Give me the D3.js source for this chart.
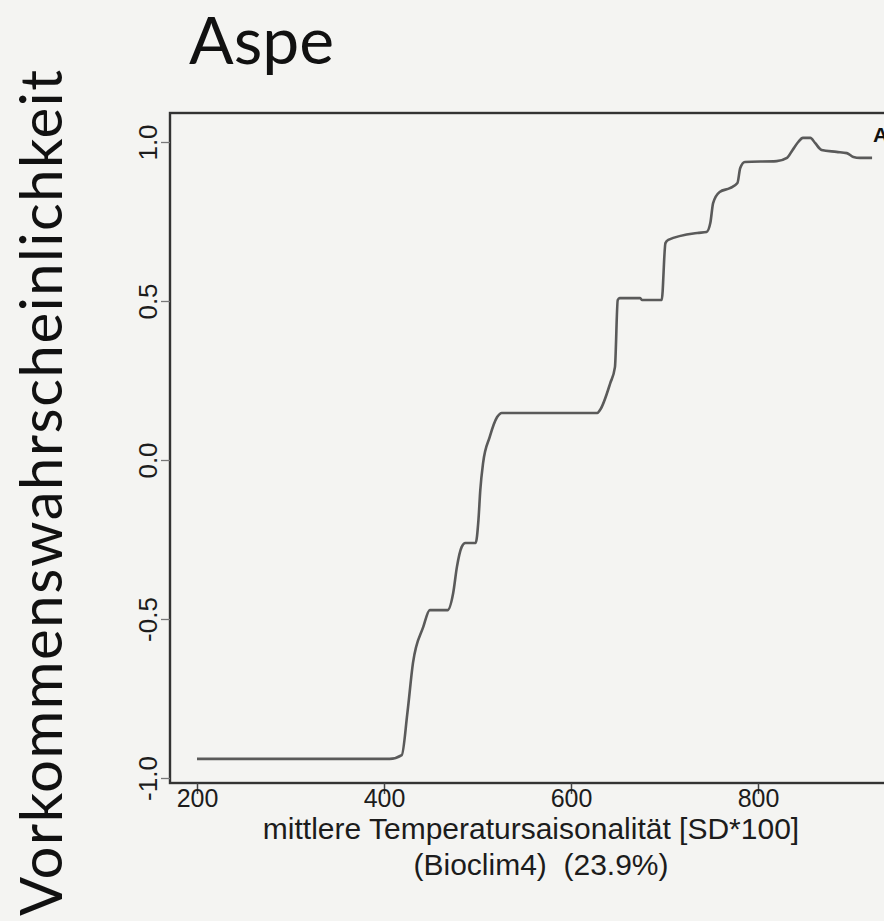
<!DOCTYPE html>
<html>
<head>
<meta charset="utf-8">
<script src="https://cdn.jsdelivr.net/npm/d3@7"></script>
<style>
  html, body { margin: 0; padding: 0; background: #f4f4f2; }
  svg { display: block; }
</style>
</head>
<body>
<svg id="chart" width="884" height="921"></svg>
<script>
// ---- data ----
const xValues = [200, 406, 419, 425, 431, 442, 449, 468, 474, 478, 483, 487, 498, 501, 503, 506, 513, 521, 526,
                 628, 631, 642, 647, 650, 652, 674, 676, 697, 701, 704, 735, 745, 749, 752, 759, 770, 778, 781,
                 786, 820, 831, 837, 843, 848, 856, 861, 868, 884, 895, 902, 909, 922];
const yValues = [-0.94, -0.94, -0.928, -0.796, -0.638, -0.525, -0.472, -0.472, -0.418, -0.336, -0.274, -0.261, -0.261,
                 -0.189, -0.094, -0.009, 0.072, 0.135, 0.148,
                 0.148, 0.157, 0.242, 0.292, 0.503, 0.509, 0.509, 0.503, 0.503, 0.682, 0.692, 0.714, 0.717, 0.745,
                 0.808, 0.843, 0.855, 0.871, 0.918, 0.937, 0.940, 0.950, 0.975, 1.000, 1.013, 1.013, 0.997, 0.975,
                 0.969, 0.965, 0.953, 0.950, 0.950];
const xTicks = [200, 400, 600, 800];
const yTicks = [-1.0, -0.5, 0.0, 0.5, 1.0];
const yTickLabels = ["-1.0", "-0.5", "0.0", "0.5", "1.0"];
const titleText = "Aspe";
const yTitle = "Vorkommenswahrscheinlichkeit";
const xTitle1 = "mittlere Temperatursaisonalität [SD*100]";
const xTitle2 = "(Bioclim4)  (23.9%)";
const panelLetter = "A";

// ---- layout ----
const svg = d3.select("#chart");
const frame = { left: 170, top: 113, right: 905, bottom: 783 };
const x = d3.scaleLinear().domain([200, 800]).range([197, 758]);
const y = d3.scaleLinear().domain([-1, 1]).range([778, 142]);

const ink = "#1c1c1c";
const axisFont = "'Liberation Sans', Arial, sans-serif";

// frame box
svg.append("rect")
  .attr("x", frame.left).attr("y", frame.top)
  .attr("width", frame.right - frame.left).attr("height", frame.bottom - frame.top)
  .attr("fill", "none").attr("stroke", "#333").attr("stroke-width", 2.4);

// x axis
const xAxis = d3.axisBottom(x).tickValues(xTicks).tickSize(11).tickPadding(-5).tickFormat(d3.format("d"));
const gx = svg.append("g").attr("transform", `translate(0,${frame.bottom})`).call(xAxis);
gx.select(".domain").remove();
gx.selectAll(".tick line").attr("stroke", "#444").attr("stroke-width", 1.5);
gx.selectAll(".tick text").attr("font-family", axisFont).attr("font-size", 25).attr("fill", ink)
  .attr("dy", "0.71em");

// y axis (R-style rotated labels)
const yAxis = d3.axisLeft(y).tickValues(yTicks).tickSize(9).tickFormat((d, i) => yTickLabels[i]);
const gy = svg.append("g").attr("transform", `translate(${frame.left},0)`).call(yAxis);
gy.select(".domain").remove();
gy.selectAll(".tick line").attr("stroke", "#777").attr("stroke-width", 1.3);
gy.selectAll(".tick text")
  .attr("font-family", axisFont).attr("font-size", 26).attr("fill", ink)
  .attr("x", 0).attr("dy", 0)
  .attr("text-anchor", "middle")
  .attr("transform", "translate(-13,0) rotate(-90)");

// curve
const pts = xValues.map((v, i) => [v, yValues[i]]);
svg.append("path")
  .datum(pts)
  .attr("fill", "none")
  .attr("stroke", "#5a5a5a")
  .attr("stroke-width", 2.6)
  .attr("stroke-linejoin", "round")
  .attr("d", d3.line().x(d => x(d[0])).y(d => y(d[1])).curve(d3.curveMonotoneX));

// panel letter (cut off at right edge)
svg.append("text").attr("x", 873).attr("y", 142)
  .attr("font-family", axisFont).attr("font-weight", "bold").attr("font-size", 21)
  .attr("fill", "#111").text(panelLetter);

// x axis titles
svg.append("text").attr("x", 531).attr("y", 839).attr("text-anchor", "middle")
  .attr("font-family", axisFont).attr("font-size", 30).attr("fill", ink).text(xTitle1);
svg.append("text").attr("x", 541).attr("y", 875).attr("text-anchor", "middle")
  .attr("font-family", axisFont).attr("font-size", 30).attr("fill", ink)
  .attr("xml:space", "preserve").style("white-space", "pre").text(xTitle2);

// main title
svg.append("text").attr("x", 189).attr("y", 64)
  .attr("font-family", "Lato, 'Open Sans', sans-serif").attr("font-size", 66).attr("fill", "#111")
  .text(titleText);

// y title
svg.append("text")
  .attr("transform", "translate(62,493) rotate(-90)")
  .attr("text-anchor", "middle")
  .attr("font-family", "Lato, 'Open Sans', sans-serif").attr("font-size", 58).attr("fill", "#111")
  .attr("textLength", 846).attr("lengthAdjust", "spacing")
  .text(yTitle);
</script>
</body>
</html>
